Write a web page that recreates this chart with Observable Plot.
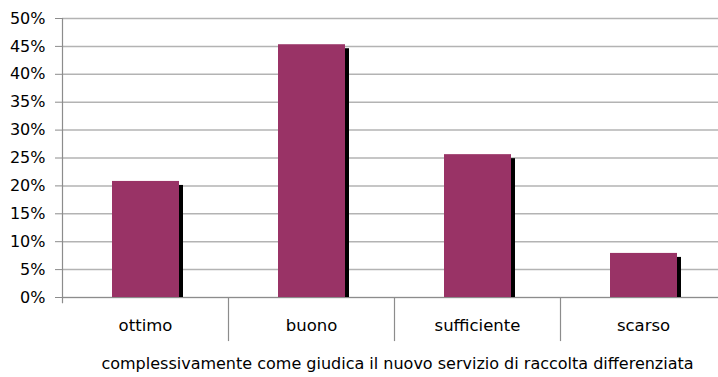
<!DOCTYPE html>
<html>
<head>
<meta charset="utf-8">
<script src="https://cdn.jsdelivr.net/npm/d3@7"></script>
<script src="https://cdn.jsdelivr.net/npm/@observablehq/plot@0.6"></script>
<style>
  html, body { margin: 0; padding: 0; background: #fff; overflow: hidden; width: 718px; height: 377px; }
  svg { display: block; max-width: none !important; width: 726px !important; height: 377px !important; }
</style>
</head>
<body>
<div id="chart"></div>
<script>
const categories = ["ottimo", "buono", "sufficiente", "scarso"];
const values = [0.208, 0.453, 0.256, 0.079];
const yTicks = [0, 0.05, 0.10, 0.15, 0.20, 0.25, 0.30, 0.35, 0.40, 0.45, 0.50];
const caption = "complessivamente come giudica il nuovo servizio di raccolta differenziata";

const data = categories.map((c, i) => ({cat: c, value: values[i]}));
const font = "DejaVu Sans, sans-serif";

const chart = Plot.plot({
  width: 726,
  height: 377,
  marginLeft: 62,
  marginRight: 0,
  marginTop: 18,
  marginBottom: 80,
  style: {fontFamily: font, fontSize: "15px", color: "#000", background: "#fff", maxWidth: "none"},
  x: {type: "band", domain: categories, padding: 0, axis: null},
  y: {type: "linear", domain: [0, 0.5], axis: null},
  marks: [
    Plot.ruleY(yTicks, {y: d => d, stroke: "#b3b3b3", strokeWidth: 1.5}),
    // shadow
    Plot.barY(data, {x: "cat", y: "value", fill: "#000", insetLeft: 54, insetRight: 45, insetTop: 4}),
    Plot.barY(data, {x: "cat", y: "value", fill: "#993366", insetLeft: 50, insetRight: 49}),
    // y axis line
    Plot.ruleX([categories[0]], {x: d => d, dx: -83, y1: -0.011, y2: 0.5, stroke: "#8c8c8c", strokeWidth: 1.2, strokeOpacity: 1}),
    Plot.axisY({ticks: yTicks, tickFormat: d3.format(".0%"), tickSize: 7, tickPadding: 10, stroke: "#8c8c8c", strokeOpacity: 1, fontSize: 16, fill: "#000", label: null}),
    Plot.ruleY([0], {y: d => d, stroke: "#8c8c8c", strokeWidth: 1.2, strokeOpacity: 1}),
    // category separators extending below the baseline
    Plot.ruleX(categories.slice(1), {x: d => d, dx: -83, y1: -0.079, y2: 0, stroke: "#8c8c8c", strokeWidth: 1.2, strokeOpacity: 1}),
    Plot.axisX({tickSize: 0, tickPadding: 22, fontSize: 16.5, fill: "#000", label: null}),
    Plot.text([caption], {frameAnchor: "bottom", dy: 71, dx: 3, fontSize: 16, fill: "#000"})
  ]
});

document.getElementById("chart").append(chart);
</script>
</body>
</html>
